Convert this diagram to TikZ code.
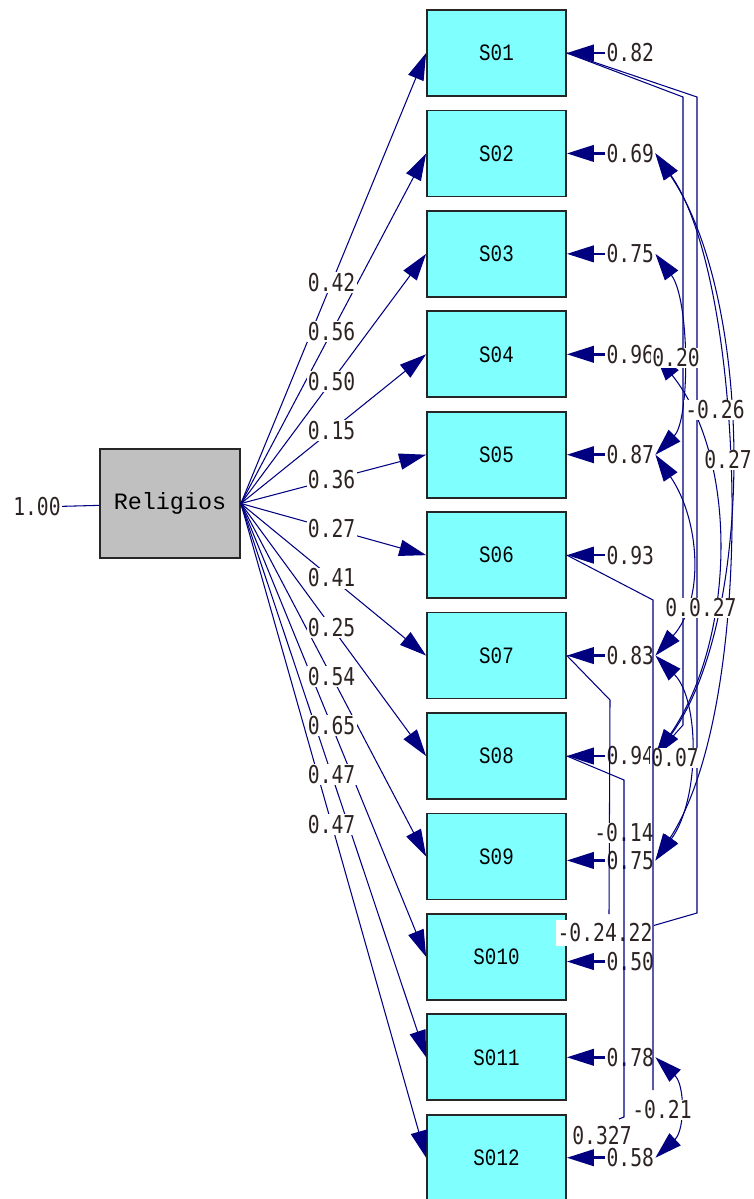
\documentclass[tikz,border=0pt]{standalone}
\usepackage{fontspec}
\usepackage{tikz}
\usetikzlibrary{arrows.meta,positioning}
\newfontfamily\valuefont[FakeStretch=0.8]{DejaVu Sans Mono}
\newfontfamily\latentfont{Liberation Mono}
\newfontfamily\itemfont[FakeStretch=0.82]{Liberation Mono}
\definecolor{lisrelNavy}{RGB}{0, 0, 128}
\definecolor{lisrelCyan}{RGB}{128, 255, 255}
\definecolor{lisrelGrey}{RGB}{192, 192, 192}
\definecolor{lisrelInk}{RGB}{45, 35, 35}

\begin{document}
\begin{tikzpicture}[
        x=0.03cm, y=-0.03cm,
        >={Triangle[length=23pt,width=14pt]},
        item/.style={rectangle, draw=black!85, line width=1.5pt, fill=lisrelCyan, minimum width=4.17cm, minimum height=2.58cm, font=\itemfont\fontsize{20}{22}\selectfont},
        latent/.style={rectangle, draw=black!85, line width=1.5pt, fill=lisrelGrey, minimum width=4.2cm, minimum height=3.27cm, font=\latentfont\fontsize{20}{22}\selectfont},
        value/.style={fill=white, inner sep=1pt, text=lisrelInk, font=\valuefont\fontsize{21}{23}\selectfont},
        load/.style={->, draw=lisrelNavy, line width=0.9pt},
        err/.style={->, draw=lisrelNavy, line width=2.2pt},
        cov/.style={<->, draw=lisrelNavy, line width=0.9pt},
        link/.style={draw=lisrelNavy, line width=0.9pt}
    ]
        \useasboundingbox (0,0) rectangle (754,1199);

        % Latent variable
        \node[latent] (rel) at (170,503.5) {Religios};

        % Indicators
        \node[item] (s1) at (496.5,53) {S01};
        \node[item, below=0.38cm of s1] (s2) {S02};
        \node[item, below=0.38cm of s2] (s3) {S03};
        \node[item, below=0.38cm of s3] (s4) {S04};
        \node[item, below=0.38cm of s4] (s5) {S05};
        \node[item, below=0.38cm of s5] (s6) {S06};
        \node[item, below=0.38cm of s6] (s7) {S07};
        \node[item, below=0.38cm of s7] (s8) {S08};
        \node[item, below=0.38cm of s8] (s9) {S09};
        \node[item, below=0.38cm of s9] (s10) {S010};
        \node[item, below=0.38cm of s10] (s11) {S011};
        \node[item, below=0.38cm of s11] (s12) {S012};

        % Error variances
        \node[value, anchor=west] (e1) at ([xshift=1.15cm]s1.east) {0.82};
        \node[value, anchor=west] (e2) at ([xshift=1.15cm]s2.east) {0.69};
        \node[value, anchor=west] (e3) at ([xshift=1.15cm]s3.east) {0.75};
        \node[value, anchor=west] (e4) at ([xshift=1.15cm]s4.east) {0.96};
        \node[value, anchor=west] (e5) at ([xshift=1.15cm]s5.east) {0.87};
        \node[value, anchor=west] (e6) at ([xshift=1.15cm]s6.east) {0.93};
        \node[value, anchor=west] (e7) at ([xshift=1.15cm]s7.east) {0.83};
        \node[value, anchor=west] (e8) at ([xshift=1.15cm]s8.east) {0.94};
        \node[value, anchor=west] (e9) at ([xshift=1.15cm,yshift=-0.12cm]s9.east) {0.75};
        \node[value, anchor=west] (e10) at ([xshift=1.15cm,yshift=-0.14cm]s10.east) {0.50};
        \node[value, anchor=west] (e11) at ([xshift=1.15cm]s11.east) {0.78};
        \node[value, anchor=west] (e12) at ([xshift=1.15cm]s12.east) {0.58};

        % Loadings
        \draw[load] (rel.east) -- (s1.west);
        \draw[load] (rel.east) -- (s2.west);
        \draw[load] (rel.east) -- (s3.west);
        \draw[load] (rel.east) -- (s4.west);
        \draw[load] (rel.east) -- (s5.west);
        \draw[load] (rel.east) -- (s6.west);
        \draw[load] (rel.east) -- (s7.west);
        \draw[load] (rel.east) -- (s8.west);
        \draw[load] (rel.east) -- (s9.west);
        \draw[load] (rel.east) -- (s10.west);
        \draw[load] (rel.east) -- (s11.west);
        \draw[load] (rel.east) -- (s12.west);

        % Correlated errors
        \draw[cov] (e2.east) .. controls (755,300) and (755,620) .. (e8.east);
        \draw[cov] (e2.east) .. controls (745,280) and (760,700) .. (e9.east);
        \draw[cov] (e3.east) .. controls (690,300) and (690,420) .. (e5.east);
        \draw[cov] (e4.east) .. controls (740,460) and (735,640) .. (e8.east);
        \draw[cov] (e5.east) .. controls (700,520) and (705,600) .. (e7.east);
        \draw[cov] (e7.east) .. controls (700,700) and (700,800) .. (e9.east);
        \draw[cov] (e11.east) .. controls (685,1085) and (685,1130) .. (e12.east);

        \coordinate (p2end) at (652,926);
        \coordinate (p4end) at (609,914);
        \coordinate (p3end) at (653,1090);
        \coordinate (p5end) at (619,1119);
        \draw[link] (s1.east) -- (683,97) -- (683,725) -- (e8.east);
        \draw[link] (s1.east) -- (697,97) -- (697,913) -- (p2end);
        \draw[link] (s7.east) -- (610,700) -- (p4end);

        % Loading values
        \path (rel.east) -- (s1.west) node[value, pos=0.49] (l1) {0.42};
        \path (rel.east) -- (s2.west) node[value, pos=0.49] (l2) {0.56};
        \path (rel.east) -- (s3.west) node[value, pos=0.49] (l3) {0.50};
        \path (rel.east) -- (s4.west) node[value, pos=0.49] (l4) {0.15};
        \path (rel.east) -- (s5.west) node[value, pos=0.49] (l5) {0.36};
        \path (rel.east) -- (s6.west) node[value, pos=0.49] (l6) {0.27};
        \path (rel.east) -- (s7.west) node[value, pos=0.49] (l7) {0.41};
        \path (rel.east) -- (s8.west) node[value, pos=0.49] (l8) {0.25};
        \path (rel.east) -- (s9.west) node[value, pos=0.49] (l9) {0.54};
        \path (rel.east) -- (s10.west) node[value, pos=0.49] (l10) {0.65};
        \path (rel.east) -- (s11.west) node[value, pos=0.49] (l11) {0.47};
        \path (rel.east) -- (s12.west) node[value, pos=0.49] (l12) {0.47};

        % Covariance values
        \node[value] (cv20) at (676,358) {0.20};
        \node[value] (cv26) at (715,410) {-0.26};
        \node[value] (cv27) at (728,460) {0.27};
        \node[value] (cv0027) at (701,608) {0.0.27};
        \node[value] (cv07) at (675,758) {0.07};
        \node[value] (cv14) at (624,833) {-0.14};
        \node[value, inner ysep=3pt] (cv22) at (605,933) {-0.24.22};
        \node[value] (cv21) at (662,1110) {-0.21};
        \node[value] (cv327) at (602,1136) {0.327};

        % Error arrows
        \draw[err] (e1.west) -- (e1.west -| s1.east);
        \draw[err] (e2.west) -- (e2.west -| s2.east);
        \draw[err] (e3.west) -- (e3.west -| s3.east);
        \draw[err] (e4.west) -- (e4.west -| s4.east);
        \draw[err] (e5.west) -- (e5.west -| s5.east);
        \draw[err] (e6.west) -- (e6.west -| s6.east);
        \draw[err] (e7.west) -- (e7.west -| s7.east);
        \draw[err] (e8.west) -- (e8.west -| s8.east);
        \draw[err] (e9.west) -- (e9.west -| s9.east);
        \draw[err] (e10.west) -- (e10.west -| s10.east);
        \draw[err] (e11.west) -- (e11.west -| s11.east);
        \draw[err] (e12.west) -- (e12.west -| s12.east);

        \draw[link] (s6.east) -- (653,600) -- (p3end);
        \draw[link] (s8.east) -- (624,780) -- (624,1117) -- (p5end);

        % Latent variance
        \node[value, fill=none] (var) at (37,507) {1.00};
        \draw[link] (var) -- (rel);

    \end{tikzpicture}
\end{document}
